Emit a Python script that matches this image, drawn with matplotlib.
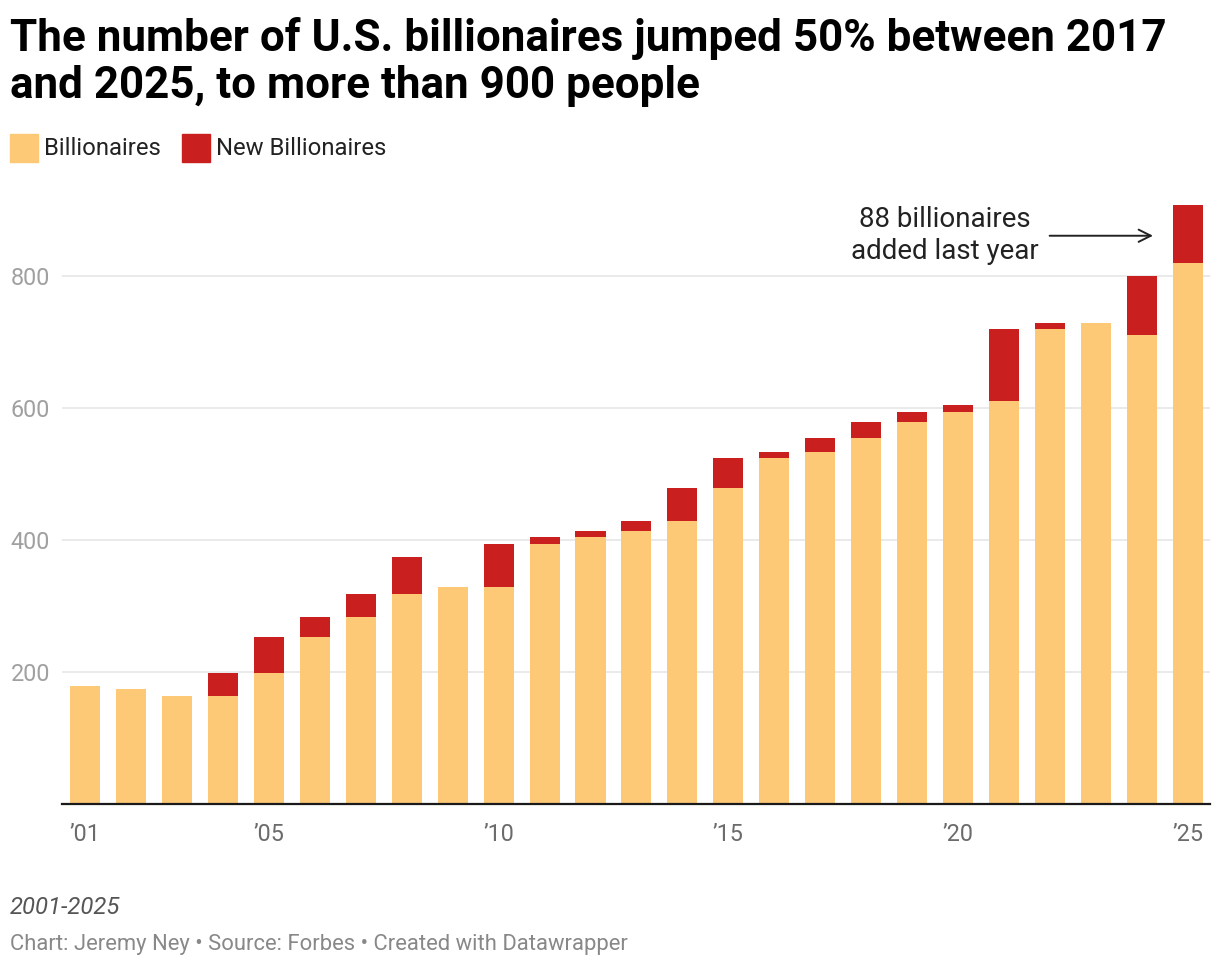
import matplotlib.pyplot as plt
from matplotlib.patches import Rectangle

plt.rcParams['font.family'] = ['Roboto', 'DejaVu Sans']

# data
years = list(range(2001, 2026))
billionaires = [179, 174, 164, 164, 199, 253, 283, 318, 329, 329, 394, 405, 414,
                429, 479, 524, 533, 555, 579, 594, 611, 720, 729, 711, 820]
new_billionaires = [0, 0, 0, 35, 54, 30, 35, 56, 0, 65, 10, 9, 15,
                    50, 45, 9, 22, 24, 15, 11, 109, 9, 0, 89, 88]
tick_years = [2001, 2005, 2010, 2015, 2020, 2025]
tick_labels = ['\u201901', '\u201905', '\u201910', '\u201915', '\u201920', '\u201925']
y_ticks = [200, 400, 600, 800]

light = '#fdc977'
red = '#c91f1f'

W, H = 1220, 966
fig = plt.figure(figsize=(W / 100, H / 100), dpi=100)


def fx(x):
    return x / W


def fy(y):
    return 1 - y / H


# axes: baseline at y=804, 800 at y=276
ax = fig.add_axes([fx(62), fy(804), fx(1210) - fx(62), fy(203.4) - fy(804)])
ax.bar(years, billionaires, width=0.653, color=light, zorder=2)
ax.bar(years, new_billionaires, width=0.653, bottom=billionaires, color=red, zorder=2)

ax.set_xlim(2000.5, 2025.48)
ax.set_ylim(0, 910)
ax.set_yticks(y_ticks)
ax.set_xticks(tick_years)
ax.set_xticklabels(tick_labels)
ax.grid(axis='y', color='#e6e6e6', linewidth=1.2, zorder=0)
ax.tick_params(axis='y', length=0, pad=8.6, labelsize=16.8, labelcolor='#a0a0a0')
ax.tick_params(axis='x', length=0, pad=13.5, labelsize=16.8, labelcolor='#6b6b6b')
for s in ['top', 'right', 'left']:
    ax.spines[s].set_visible(False)
ax.spines['bottom'].set_color('#1a1a1a')
ax.spines['bottom'].set_linewidth(1.6)
ax.spines['bottom'].set_zorder(3)

# annotation
ax.text(2019.71, 874, '88 billionaires', ha='center', va='baseline', fontsize=20, color='#222222')
ax.text(2019.71, 826, 'added last year', ha='center', va='baseline', fontsize=20, color='#222222')
ax.annotate('', xy=(2024.3, 861), xytext=(2021.93, 861),
            arrowprops=dict(arrowstyle='->', lw=1.4, color='#222222', mutation_scale=22))

# title
fig.text(fx(10), fy(51), 'The number of U.S. billionaires jumped 50% between 2017',
         fontsize=31.7, fontweight='bold', color='#000000', va='baseline')
fig.text(fx(10), fy(98), 'and 2025, to more than 900 people',
         fontsize=31.7, fontweight='bold', color='#000000', va='baseline')

# legend
fig.add_artist(Rectangle((fx(10), fy(162)), fx(27.5), fy(134) - fy(162),
                         transform=fig.transFigure, color=light))
fig.text(fx(44), fy(155), 'Billionaires', fontsize=17.2, color='#222222', va='baseline')
fig.add_artist(Rectangle((fx(182), fy(162)), fx(27.5), fy(134) - fy(162),
                         transform=fig.transFigure, color=red))
fig.text(fx(216), fy(155), 'New Billionaires', fontsize=17.2, color='#222222', va='baseline')

# footer
fig.text(fx(10), fy(914), '2001-2025', fontsize=17.2, style='italic', color='#555555', va='baseline')
fig.text(fx(10), fy(950), 'Chart: Jeremy Ney \u2022 Source: Forbes \u2022 Created with Datawrapper',
         fontsize=15.8, color='#888888', va='baseline')

fig.savefig('out.png', dpi=100)
